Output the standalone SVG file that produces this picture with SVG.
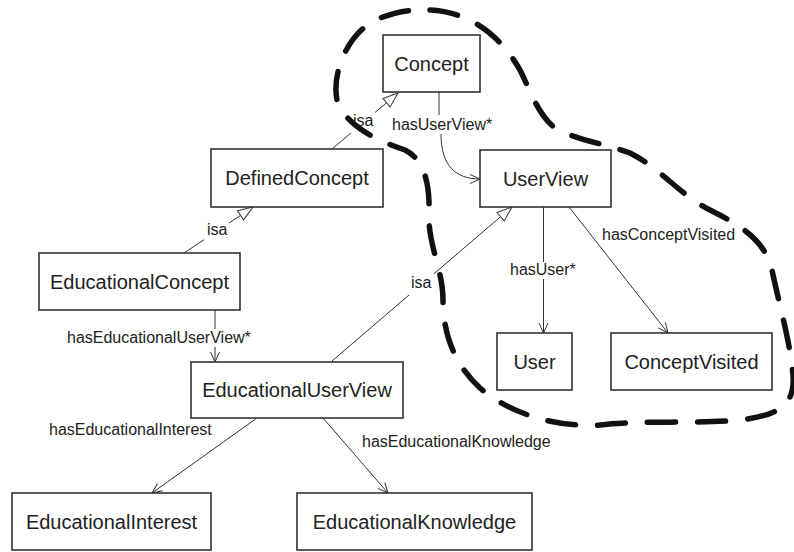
<svg xmlns="http://www.w3.org/2000/svg" width="794" height="552" viewBox="0 0 794 552">
<style>
.box{fill:#fff;stroke:#333;stroke-width:1.6}
.nt{font-family:"Liberation Sans",Arial,sans-serif;font-size:20px;fill:#222;text-anchor:middle}
.lb{font-family:"Liberation Sans",Arial,sans-serif;font-size:16px;fill:#222}
.ln{fill:none;stroke:#333;stroke-width:1}
.blob{fill:none;stroke:#111;stroke-width:5.5;stroke-linecap:round;stroke-dasharray:28 22}
</style>
<defs>
<marker id="open" markerUnits="userSpaceOnUse" markerWidth="14" markerHeight="12" viewBox="-12 -6 14 12" refX="0" refY="0" orient="auto">
<path d="M-10,-4.5 L0,0 L-10,4.5" fill="none" stroke="#333" stroke-width="1"/>
</marker>
<marker id="tri" markerUnits="userSpaceOnUse" markerWidth="20" markerHeight="16" viewBox="-18 -8 20 16" refX="0" refY="0" orient="auto">
<path d="M0,0 L-15,-5.5 L-15,5.5 Z" fill="#fff" stroke="#333" stroke-width="1"/>
</marker>
</defs>
<rect width="794" height="552" fill="#fff"/>
<g id="connectors">
<line class="ln" x1="332" y1="149" x2="351" y2="133"/>
<line class="ln" x1="375" y1="112.5" x2="398" y2="93" marker-end="url(#tri)"/>
<text class="lb" x="353" y="126">isa</text>
<line class="ln" x1="184" y1="253" x2="204" y2="239.7"/>
<line class="ln" x1="229" y1="223" x2="253" y2="207" marker-end="url(#tri)"/>
<text class="lb" x="207" y="235">isa</text>
<line class="ln" x1="332" y1="361" x2="409" y2="295"/>
<line class="ln" x1="434" y1="273.7" x2="512" y2="207" marker-end="url(#tri)"/>
<text class="lb" x="411" y="288">isa</text>
<line class="ln" x1="439" y1="92" x2="439" y2="115"/>
<path class="ln" d="M441,134 C441,165 455,179 480,179" marker-end="url(#open)"/>
<text class="lb" x="392" y="130">hasUserView*</text>
<line class="ln" x1="543.5" y1="207" x2="543.5" y2="262"/>
<line class="ln" x1="543.5" y1="279" x2="543.5" y2="333" marker-end="url(#open)"/>
<text class="lb" x="510" y="275">hasUser*</text>
<line class="ln" x1="569" y1="207" x2="668" y2="333" marker-end="url(#open)"/>
<text class="lb" x="602" y="240">hasConceptVisited</text>
<line class="ln" x1="215" y1="310" x2="215" y2="329"/>
<line class="ln" x1="215" y1="347" x2="215" y2="362" marker-end="url(#open)"/>
<text class="lb" x="67" y="343">hasEducationalUserView*</text>
<line class="ln" x1="257" y1="418" x2="152" y2="493" marker-end="url(#open)"/>
<text class="lb" x="49" y="435">hasEducationalInterest</text>
<line class="ln" x1="323" y1="418" x2="388" y2="493" marker-end="url(#open)"/>
<text class="lb" x="362" y="447">hasEducationalKnowledge</text>
</g>
<g id="Concept"><rect class="box" x="383" y="35" width="97" height="57"/><text class="nt" x="431.5" y="70.5">Concept</text></g>
<g id="DefinedConcept"><rect class="box" x="211" y="149" width="172" height="58"/><text class="nt" x="297" y="185">DefinedConcept</text></g>
<g id="EducationalConcept"><rect class="box" x="39" y="253" width="201" height="57"/><text class="nt" x="139.5" y="288.5">EducationalConcept</text></g>
<g id="EducationalUserView"><rect class="box" x="191" y="362" width="212" height="56"/><text class="nt" x="297" y="397">EducationalUserView</text></g>
<g id="UserView"><rect class="box" x="480" y="150" width="131" height="57"/><text class="nt" x="545.5" y="185.5">UserView</text></g>
<g id="User"><rect class="box" x="497" y="333" width="75" height="57"/><text class="nt" x="534.5" y="368.5">User</text></g>
<g id="ConceptVisited"><rect class="box" x="611" y="333" width="161" height="57"/><text class="nt" x="691.5" y="368.5">ConceptVisited</text></g>
<g id="EducationalInterest"><rect class="box" x="12" y="493" width="199" height="57"/><text class="nt" x="111.5" y="528.5">EducationalInterest</text></g>
<g id="EducationalKnowledge"><rect class="box" x="297" y="493" width="235" height="57"/><text class="nt" x="414.5" y="528.5">EducationalKnowledge</text></g>
<g id="boundary">
<path class="blob" d="M430,10 C470,12 500,35 520,70 C530,90 538,115 555,128 C575,140 610,145 630,153 C660,168 680,195 710,210 C740,225 765,240 772,270 C778,300 790,340 793,375 C795,405 780,415 740,420 C700,424 640,420 600,425 C550,428 505,410 480,388 C455,365 443,335 443,300 C443,270 428,245 429,215 C430,185 425,160 405,150 C375,140 345,125 337,100 C332,75 345,40 370,23 C390,12 410,9 430,10 Z"/>
</g>
</svg>
